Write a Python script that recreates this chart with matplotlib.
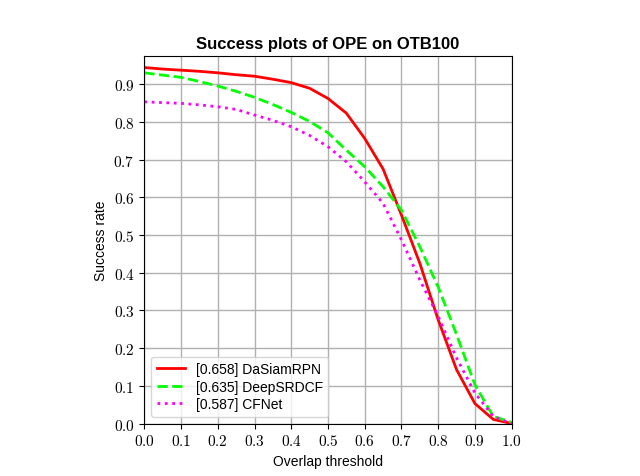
import matplotlib
matplotlib.use("Agg")
import matplotlib.pyplot as plt
from matplotlib.ticker import FuncFormatter, MultipleLocator

plt.rcParams['font.family'] = ['Liberation Sans', 'DejaVu Sans']
plt.rcParams['mathtext.fontset'] = 'cm'

thresholds = [0.0, 0.05, 0.1, 0.15, 0.2, 0.25, 0.3, 0.35, 0.4, 0.45, 0.5,
              0.55, 0.6, 0.65, 0.7, 0.75, 0.8, 0.85, 0.9, 0.95, 1.0]

dasiam = [0.944, 0.940, 0.937, 0.934, 0.930, 0.925, 0.921, 0.913, 0.904, 0.889, 0.862,
          0.823, 0.756, 0.675, 0.553, 0.425, 0.275, 0.143, 0.053, 0.011, 0.0]
deepsrdcf = [0.930, 0.924, 0.918, 0.907, 0.895, 0.881, 0.865, 0.846, 0.825, 0.801, 0.771,
             0.725, 0.681, 0.628, 0.566, 0.469, 0.362, 0.236, 0.103, 0.019, 0.003]
cfnet = [0.853, 0.851, 0.849, 0.845, 0.840, 0.833, 0.818, 0.804, 0.787, 0.764, 0.734,
         0.694, 0.641, 0.584, 0.487, 0.381, 0.284, 0.174, 0.081, 0.019, 0.0]

labels = ['[0.658] DaSiamRPN', '[0.635] DeepSRDCF', '[0.587] CFNet']

fig = plt.figure(figsize=(6.4, 4.77), dpi=100)
ax = fig.add_subplot(111)
ax.set_box_aspect(1)

ax.plot(thresholds, dasiam, color='red', linestyle='-', linewidth=2, label=labels[0])
ax.plot(thresholds, deepsrdcf, color='lime', linestyle='--', linewidth=2, label=labels[1])
ax.plot(thresholds, cfnet, color='magenta', linestyle=':', linewidth=2, label=labels[2])

ax.set_xlim(0, 1)
ax.set_ylim(0, 0.974)
ax.xaxis.set_major_locator(MultipleLocator(0.1))
ax.yaxis.set_major_locator(MultipleLocator(0.1))
fmt = FuncFormatter(lambda v, p: r'$%.1f$' % v)
ax.xaxis.set_major_formatter(fmt)
ax.yaxis.set_major_formatter(fmt)
ax.tick_params(labelsize=11)
ax.grid(True, color='#b0b0b0', linewidth=1)

ax.set_xlabel('Overlap threshold')
ax.set_ylabel('Success rate')
ax.set_title('Success plots of OPE on OTB100', fontweight='bold', fontsize=12)
ax.legend(loc='lower left', fontsize=10, labelspacing=0.25)

fig.savefig('out.png', dpi=100)
